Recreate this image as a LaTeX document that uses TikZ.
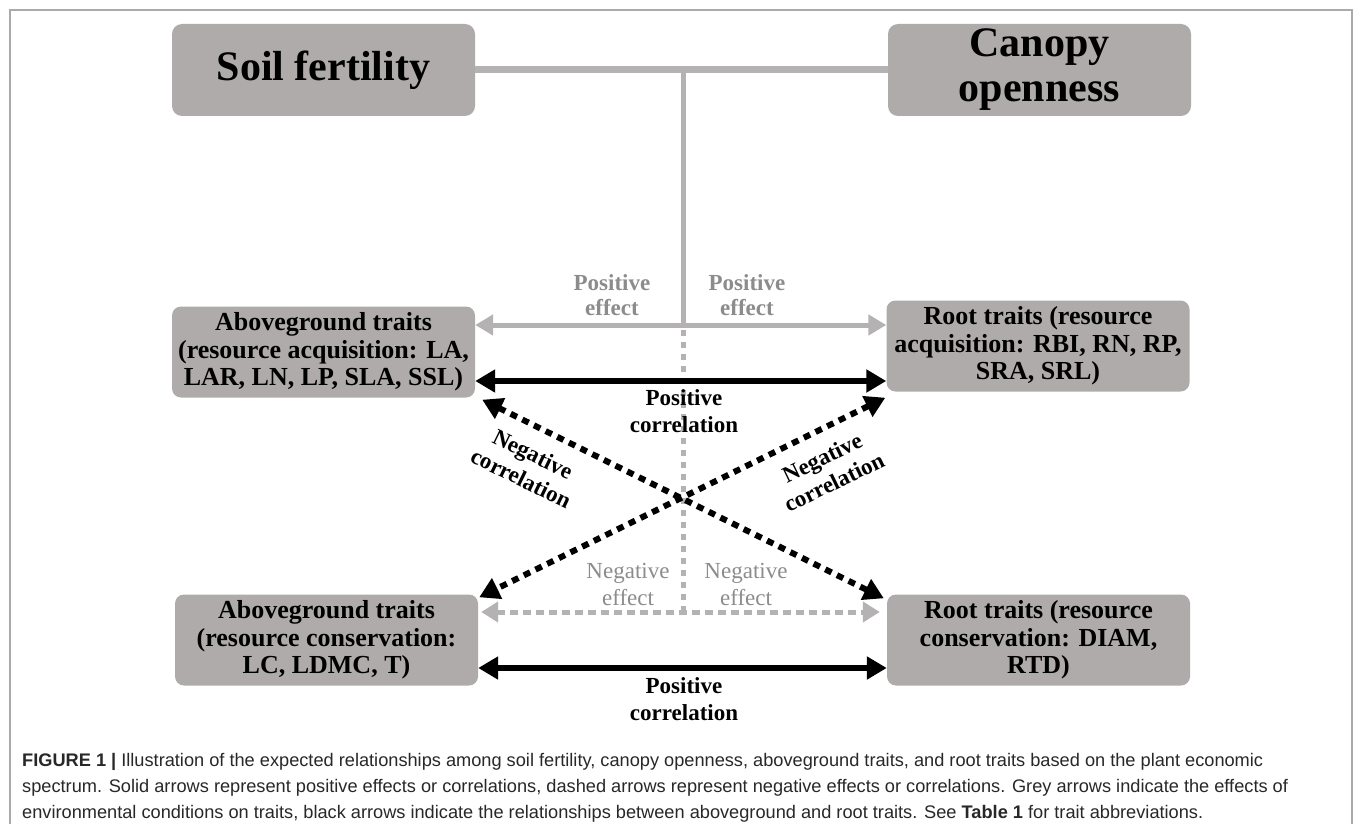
\documentclass[tikz,border=0pt]{standalone}
\usepackage{fontspec}
\setmainfont{Liberation Serif}
\newfontfamily\capfont{Liberation Sans}
\usetikzlibrary{arrows.meta}
\definecolor{boxgrey}{RGB}{175,171,171}
\definecolor{linegrey}{RGB}{180,178,178}
\definecolor{txtgrey}{RGB}{140,140,140}
\definecolor{framegrey}{RGB}{170,170,170}
\definecolor{captxt}{RGB}{40,40,40}
\begin{document}
\begin{tikzpicture}[x=1pt,y=-1pt,
  topbox/.style={fill=boxgrey, rounded corners=10pt, minimum width=303pt, minimum height=92pt, inner sep=0pt, align=center, font=\fontsize{42}{45}\selectfont\bfseries},
  trait/.style={fill=boxgrey, rounded corners=9pt, minimum width=303pt, minimum height=91pt, inner sep=0pt, align=center, font=\fontsize{26}{27.5}\selectfont\bfseries},
  glab/.style={text=txtgrey, align=center, font=\fontsize{23}{24.5}\selectfont\bfseries, inner sep=0pt},
  glabr/.style={text=txtgrey, align=center, font=\fontsize{23}{27}\selectfont, inner sep=0pt},
  blab/.style={text=black, align=center, font=\fontsize{23}{27}\selectfont\bfseries, inner sep=0pt},
  gline/.style={draw=linegrey, line width=5pt},
  garrow/.style={draw=linegrey, line width=5pt, -{Triangle[length=18pt,width=20pt]}},
  gdash/.style={draw=linegrey, line width=5pt, dash pattern=on 6pt off 6pt},
  gdarrow/.style={draw=linegrey, line width=5pt, dash pattern=on 8pt off 5pt, {Triangle[length=17pt,width=20pt]}-{Triangle[length=17pt,width=20pt]}},
  barrow/.style={draw=black, line width=6pt, {Triangle[length=20pt,width=22pt]}-{Triangle[length=20pt,width=22pt]}},
  bdarrow/.style={draw=black, line width=6pt, dash pattern=on 7pt off 6pt, {Triangle[length=20pt,width=22pt]}-{Triangle[length=20pt,width=22pt]}},
  captext/.style={anchor=base west, inner sep=0pt, text=captxt, font=\capfont\fontsize{18.2}{20}\selectfont}
]
\useasboundingbox (0,0) rectangle (1355,824);
\fill[white] (0,0) rectangle (1355,824);
\draw[framegrey, line width=2pt] (10,824) -- (10,10) -- (1352,10) -- (1352,824);

% boxes
\node[topbox] (soil) at (323.5,70) {Soil fertility};
\node[topbox] (canopy) at (1039.5,70) {Canopy\\openness};
\node[trait] (aga) at (323.5,352) {Aboveground traits\\(resource acquisition: LA,\\LAR, LN, LP, SLA, SSL)};
\node[trait] (rta) at (1038,346) {Root traits (resource\\acquisition: RBI, RN, RP,\\SRA, SRL)};
\node[trait] (agc) at (326.5,640) {Aboveground traits\\(resource conservation:\\LC, LDMC, T)};
\node[trait] (rtc) at (1038.5,640) {Root traits (resource\\conservation: DIAM,\\RTD)};

% junctions
\coordinate (jt) at (683,70);
\coordinate (jm) at (683,325);
\coordinate (jb) at (683,612);
\coordinate (ya) at (0,381);
\coordinate (yc) at (0,668);

% grey connectors
\draw[draw=linegrey, line width=7pt] (soil.east) -- (canopy.west);
\draw[gline] (jt) -- (jm);
\draw[garrow] (jm) -- (aga.east |- jm);
\draw[garrow] (jm) -- (rta.west |- jm);
\draw[gdash] ([yshift=-5pt]jm) -- (jb);
\draw[gdarrow, shorten <=3pt, shorten >=7pt] (agc.east |- jb) -- (rtc.west |- jb);

% black connectors
\draw[barrow] (aga.east |- ya) -- (rta.west |- ya);
\draw[barrow] (agc.east |- yc) -- (rtc.west |- yc);
\draw[bdarrow] ([shift={(7,2)}]aga.south east) -- ([shift={(-3,4)}]rtc.north west);
\draw[bdarrow] ([shift={(-1,6)}]rta.south west) -- ([shift={(1,3)}]agc.north east);

% labels
\node[glab] (pe1) at (612,295) {Positive\\effect};
\node[glab] (pe2) at (747,295) {Positive\\effect};
\node[blab] (pc1) at (684,411) {Positive\\correlation};
\node[blab, rotate=-26] (nc1) at (527,466) {Negative\\correlation};
\node[blab, rotate=26] (nc2) at (828,470) {Negative\\correlation};
\node[glabr] (ne1) at (628,584) {Negative\\effect};
\node[glabr] (ne2) at (746,584) {Negative\\effect};
\node[blab] (pc2) at (684,699) {Positive\\correlation};

% caption
\node[captext] (c1) at (22,766) {\textbf{FIGURE 1 |} Illustration of the expected relationships among soil fertility, canopy openness, aboveground traits, and root traits based on the plant economic};
\node[captext] (c2) at (22,792) {spectrum. Solid arrows represent positive effects or correlations, dashed arrows represent negative effects or correlations. Grey arrows indicate the effects of};
\node[captext] (c3) at (22,818) {environmental conditions on traits, black arrows indicate the relationships between aboveground and root traits. See \textbf{Table 1} for trait abbreviations.};
\end{tikzpicture}
\end{document}
